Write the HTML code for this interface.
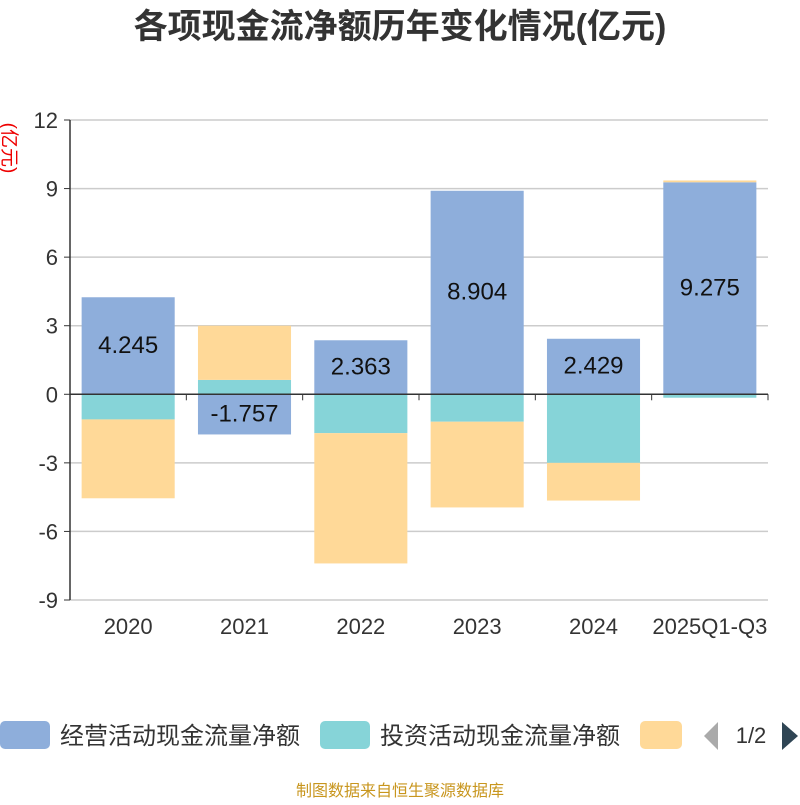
<!DOCTYPE html>
<html><head><meta charset="utf-8"><style>
body{margin:0;width:800px;height:800px;background:#fff;overflow:hidden;font-family:"Liberation Sans","Noto Sans CJK SC",sans-serif}
</style></head><body>
<svg id="chart" width="800" height="800" xmlns="http://www.w3.org/2000/svg" font-family="Liberation Sans, Noto Sans CJK SC, sans-serif"></svg>
<script>
const categories=["2020","2021","2022","2023","2024","2025Q1-Q3"];
const operating=[4.245,-1.757,2.363,8.904,2.429,9.275];
const investing=[-1.1,0.63,-1.7,-1.2,-3.0,-0.15];
const financing=[-3.45,2.37,-5.7,-3.75,-1.65,0.08];
const yTicks=[12,9,6,3,0,-3,-6,-9];
const colors=["#8eaedb","#86d4d8","#ffd998"];
const NS="http://www.w3.org/2000/svg";
const svg=document.getElementById('chart');
const L=70,R=768,T=120,B=600,yMax=12,yMin=-9;
const y=v=>T+(yMax-v)/(yMax-yMin)*(B-T);
const band=(R-L)/categories.length;
const x=i=>L+band*i;
function mk(tag,attrs,txt){const e=document.createElementNS(NS,tag);for(const k in attrs)e.setAttribute(k,attrs[k]);if(txt!==undefined)e.textContent=txt;svg.appendChild(e);return e;}
let t=mk('text',{x:400,y:38,'text-anchor':'middle','font-size':34,'font-weight':'bold',fill:'#333'},'各项现金流净额历年变化情况(亿元)');


t=mk('text',{x:3,y:148,'text-anchor':'middle','font-size':19,fill:'#e00',transform:'rotate(90 3 148)'},'(亿元)');


yTicks.forEach(v=>{
  const g=mk('line',{x1:L,x2:R,y1:y(v),y2:y(v),stroke:'#ccc','stroke-width':1.5});
  
  
  mk('line',{x1:L-6,x2:L,y1:y(v),y2:y(v),stroke:'#333'});
  const l=mk('text',{x:L-12,y:y(v)+8,'text-anchor':'end','font-size':22,fill:'#333'},String(v));
  
  
});
let ax=mk('line',{x1:L,x2:L,y1:T,y2:B,stroke:'#333','stroke-width':1.5});


const bw=band*0.8;
categories.forEach((c,i)=>{
  let pos=0,neg=0;
  [operating,investing,financing].forEach((s,k)=>{
    const v=s[i];let y0,y1;
    if(v>=0){y0=pos;y1=pos+v;pos=y1;}else{y0=neg;y1=neg+v;neg=y1;}
    const r=mk('rect',{x:x(i)+(band-bw)/2,y:Math.min(y(y0),y(y1)),width:bw,height:Math.abs(y(y1)-y(y0)),fill:colors[k]});
    
    
  });
  const v=operating[i];
  const lb=mk('text',{x:x(i)+band/2,y:y(v/2)+7,'text-anchor':'middle','font-size':24,fill:'#111'},v.toFixed(3));
  
  
  const xl=mk('text',{x:x(i)+band/2,y:634,'text-anchor':'middle','font-size':22,fill:'#333'},c);
  
  
  mk('line',{x1:x(i),x2:x(i),y1:y(0),y2:y(0)+6,stroke:'#333'});
});
mk('line',{x1:R,x2:R,y1:y(0),y2:y(0)+6,stroke:'#333'});
ax=mk('line',{x1:L,x2:R,y1:y(0),y2:y(0),stroke:'#333','stroke-width':1.5});


const legendNames=["经营活动现金流量净额","投资活动现金流量净额",""];
const lx=[0,320,640];
legendNames.forEach((n,k)=>{
  const r=mk('rect',{x:lx[k],y:721,width:k==2?42:50,height:28,rx:5,fill:colors[k]});
  
  
  if(n){const tx=mk('text',{x:lx[k]+60,y:744,'font-size':24,fill:'#333'},n);
  
  }
});
let p=mk('polygon',{points:'718,722 718,750 704,736',fill:'#aaa'});


t=mk('text',{x:751,y:743,'text-anchor':'middle','font-size':22,fill:'#333'},'1/2');


p=mk('polygon',{points:'782,722 782,750 798,736',fill:'#2f4554'});


t=mk('text',{x:400,y:796,'text-anchor':'middle','font-size':16,fill:'#c8961e'},'制图数据来自恒生聚源数据库');


</script>
</body></html>
